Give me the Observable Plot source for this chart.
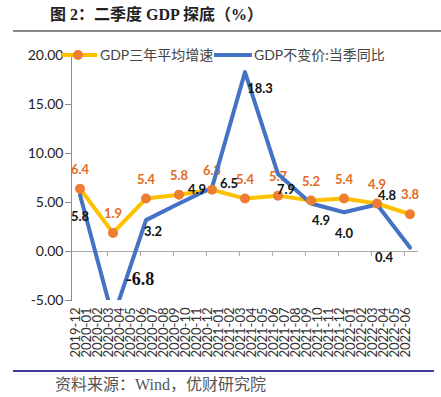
<!DOCTYPE html>
<html><head><meta charset="utf-8">
<script src="https://cdn.jsdelivr.net/npm/d3@7"></script>
<script src="https://cdn.jsdelivr.net/npm/@observablehq/plot@0.6"></script>
<style>
body{margin:0;background:#fff;width:441px;height:397px;position:relative;overflow:hidden;font-family:Lato,"Noto Sans CJK SC",sans-serif;}
#title{position:absolute;left:50px;top:5px;font-family:"Liberation Serif","Noto Sans CJK SC",serif;font-weight:bold;font-size:16px;color:#222;line-height:20px;white-space:nowrap}
#rule1{position:absolute;left:13px;top:30px;width:428px;height:2px;background:#8a8a8a}
#chart{position:absolute;left:0;top:40px}
.lg{position:absolute;font-size:14px;color:#444;line-height:20px;white-space:nowrap}
#rule2{position:absolute;left:13px;top:370px;width:421px;height:1.5px;background:#3d3d99}
#source{position:absolute;left:55px;top:375px;font-size:16px;color:#555;line-height:20px;white-space:nowrap;font-family:"Liberation Serif","Noto Sans CJK SC",serif}
</style></head>
<body>
<div id="title">图 2：二季度 GDP 探底（%）</div>
<div id="rule1"></div>
<div id="chart"></div>
<div id="legend"></div>
<div id="rule2"></div>
<div id="source">资料来源：Wind，优财研究院</div>
<script>
const months = ["2019-12","2020-01","2020-02","2020-03","2020-04","2020-05","2020-06","2020-07","2020-08","2020-09","2020-10","2020-11","2020-12","2021-01","2021-02","2021-03","2021-04","2021-05","2021-06","2021-07","2021-08","2021-09","2021-10","2021-11","2021-12","2022-01","2022-02","2022-03","2022-04","2022-05","2022-06"];
const quarters = ["2019-12","2020-03","2020-06","2020-09","2020-12","2021-03","2021-06","2021-09","2021-12","2022-03","2022-06"];
const avg3y = [6.4,1.9,5.4,5.8,6.3,5.4,5.7,5.2,5.4,4.9,3.8];
const yoy = [5.8,-6.8,3.2,4.9,6.5,18.3,7.9,4.9,4.0,4.8,0.4];
const yTicks = [-5,0,5,10,15,20];
const tickMonths = quarters.slice(1);
const seriesNames = ["GDP三年平均增速","GDP不变价:当季同比"];

// label nudges (styling only)
const blueLabelNudge = [[0,22],[27,-39],[7,12],[18,-14],[17,-4],[15,17],[8,16],[10,17],[0,22],[10,-9],[-26,10]];

const avgRows = quarters.map((m,i)=>({month:m, v:avg3y[i]}));
const yoyRows = quarters.map((m,i)=>({month:m, v:yoy[i]}));

const W = 441, ML = 71, MR = 23;
const bw = (W-ML-MR)/months.length;

const blueLabels = yoyRows.map((r,i)=>Plot.text([r], {
  x:"month", y:"v", text:d=>d.v.toFixed(1),
  dx: blueLabelNudge[i][0], dy: blueLabelNudge[i][1],
  fill:"#111", fontWeight:"bold",
  fontSize: i===1 ? 18 : 13,
  fontFamily: i===1 ? "Liberation Serif, serif" : "Lato, sans-serif"
}));

const chart = Plot.plot({
  width: W, height: 330,
  marginTop: 15, marginBottom: 70, marginLeft: ML, marginRight: MR,
  style: {fontFamily: 'Lato, "Noto Sans CJK SC", sans-serif', background: "transparent", color: "#333"},
  x: {type: "band", domain: months, padding: 0},
  y: {domain: [-5, 20]},
  marks: [
    Plot.frame({anchor: "left", stroke: "#8c8c8c"}),
    Plot.ruleY([0], {stroke: "#a6a6a6", strokeWidth: 1.2}),
    Plot.ruleX(tickMonths, {x: d=>d, y1: 0, y2: 0, insetBottom: -5, dx: -bw/2, stroke: "#a6a6a6"}),
    Plot.axisY({ticks: yTicks, tickSize: 6, tickPadding: 2, tickFormat: d=>d.toFixed(2), fontSize: 14, stroke: "#8c8c8c", fill: "#222", label: null}),
    Plot.axisX({tickSize: 0, tickRotate: -90, tickPadding: 7, fontSize: 13, label: null, dx: -4, fill: "#333"}),
    Plot.line(avgRows, {x: "month", y: "v", stroke: "#FFC000", strokeWidth: 4}),
    Plot.text(avgRows, {x: "month", y: "v", text: d=>d.v.toFixed(1), dy: -19, fill: "#E26B1F", fontWeight: "bold", fontSize: 13}),
    Plot.line(yoyRows, {x: "month", y: "v", stroke: "#4472C4", strokeWidth: 4, clip: true}),
    Plot.dot(avgRows, {x: "month", y: "v", r: 5, fill: "#ED7D31"}),
    ...blueLabels
  ]
});
document.getElementById("chart").appendChild(chart);

const lg = document.getElementById("legend");
lg.innerHTML = `
<svg style="position:absolute;left:61px;top:45px" width="37" height="20"><line x1="1" x2="36" y1="10" y2="10" stroke="#FFC000" stroke-width="4"/><circle cx="17" cy="10" r="5" fill="#ED7D31"/></svg>
<div class="lg" style="left:100px;top:45px">${seriesNames[0]}</div>
<svg style="position:absolute;left:213px;top:45px" width="40" height="20"><line x1="1" x2="39" y1="10" y2="10" stroke="#4472C4" stroke-width="4"/></svg>
<div class="lg" style="left:254px;top:45px">${seriesNames[1]}</div>`;
</script>
</body></html>
